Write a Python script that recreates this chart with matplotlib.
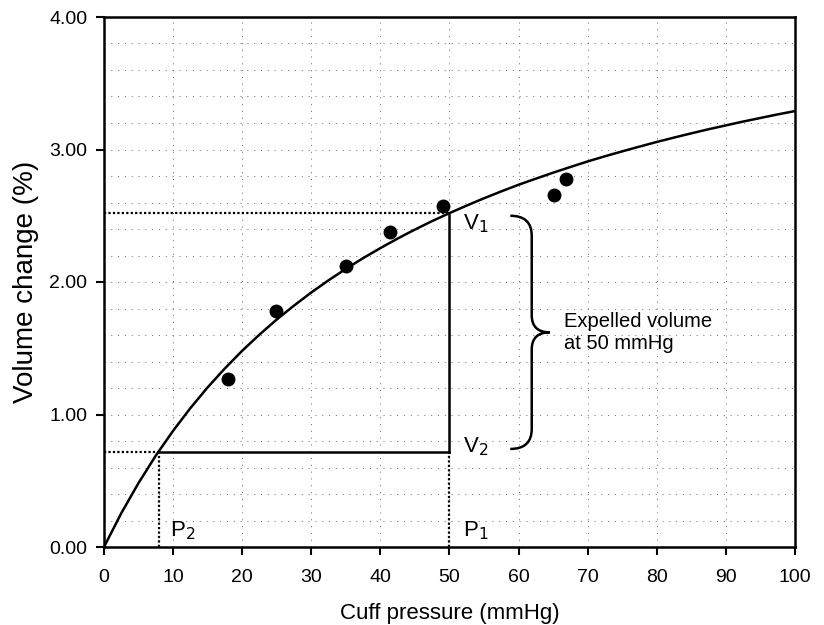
import matplotlib.pyplot as plt
from matplotlib.path import Path
from matplotlib.patches import PathPatch
from matplotlib.ticker import MultipleLocator, FormatStrFormatter

plt.rcParams['font.family'] = ['Liberation Sans', 'DejaVu Sans']

# === DATA ===
curve_p = [0, 2.5, 5, 7.5, 10, 12.5, 15, 17.5, 20, 22.5, 25, 27.5, 30,
           32.5, 35, 37.5, 40, 42.5, 45, 47.5, 50, 52.5, 55, 57.5, 60,
           62.5, 65, 67.5, 70, 72.5, 75, 77.5, 80, 82.5, 85, 87.5, 90,
           92.5, 95, 97.5, 100]
curve_v = [0.000, 0.255, 0.483, 0.690, 0.877, 1.048, 1.205, 1.348, 1.481,
           1.603, 1.717, 1.822, 1.921, 2.013, 2.099, 2.180, 2.256, 2.328,
           2.396, 2.460, 2.520, 2.577, 2.632, 2.684, 2.734, 2.780, 2.825,
           2.868, 2.910, 2.949, 2.986, 3.022, 3.057, 3.090, 3.122, 3.153,
           3.182, 3.211, 3.238, 3.265, 3.290]

meas_p = [18.0, 24.9, 35.0, 41.4, 49.0, 65.1, 66.8]
meas_v = [1.27, 1.78, 2.12, 2.38, 2.57, 2.66, 2.78]

p1, v1 = 50, 2.52
p2, v2 = 8, 0.72

# === FIGURE ===
fig = plt.figure(figsize=(8.24, 6.25), dpi=100)
ax = fig.add_axes([0.1262, 0.1248, 0.8386, 0.848])

ax.set_xlim(0, 100)
ax.set_ylim(0, 4)
ax.xaxis.set_major_locator(MultipleLocator(10))
ax.yaxis.set_major_locator(MultipleLocator(1))
ax.yaxis.set_minor_locator(MultipleLocator(0.2))
ax.yaxis.set_major_formatter(FormatStrFormatter('%.2f'))

# dotted grid
grid_kw = dict(color='#666666', lw=0.7, ls=(0, (1, 6)))
for x in range(10, 100, 10):
    ax.axvline(x, zorder=0, **grid_kw)
for i in range(1, 20):
    ax.axhline(i * 0.2, zorder=0, **grid_kw)

ax.tick_params(which='major', direction='out', length=6, width=1.5)
ax.tick_params(axis='x', labelsize=14, pad=10)
ax.tick_params(axis='y', labelsize=14, pad=6)
ax.tick_params(which='minor', length=0)
for s in ax.spines.values():
    s.set_linewidth(1.8)

# fitted curve and measured points
ax.plot(curve_p, curve_v, color='black', lw=1.8, zorder=3)
ax.plot(meas_p, meas_v, 'o', color='black', ms=9, zorder=4)

# construction lines
ax.plot([0, p1], [v1, v1], color='black', lw=1.6, ls=(0, (1, 1)))
ax.plot([0, p2], [v2, v2], color='black', lw=1.6, ls=(0, (1, 1)))
ax.plot([p2, p2], [0, v2], color='black', lw=1.6, ls=(0, (1, 1)))
ax.plot([p1, p1], [0, v2], color='black', lw=1.6, ls=(0, (1, 1)))
ax.plot([p1, p1], [v1, v2], color='black', lw=1.8)
ax.plot([p2, p1], [v2, v2], color='black', lw=1.8)

# labels
ax.text(52, 2.44, r'V$_1$', fontsize=16, va='center')
ax.text(52, 0.76, r'V$_2$', fontsize=16, va='center')
ax.text(9.5, 0.12, r'P$_2$', fontsize=16, va='center')
ax.text(52, 0.12, r'P$_1$', fontsize=16, va='center')

# curly brace
bx0, bx1, btip = 58.8, 61.9, 64.5
by_top, by_bot = 2.50, 0.74
by_mid = (by_top + by_bot) / 2
verts = [(bx0, by_top), (bx1, by_top), (bx1, by_top - 0.15),
         (bx1, by_mid + 0.13), (bx1, by_mid), (btip, by_mid),
         (bx1, by_mid), (bx1, by_mid - 0.13),
         (bx1, by_bot + 0.15), (bx1, by_bot), (bx0, by_bot)]
codes = [Path.MOVETO, Path.CURVE3, Path.CURVE3,
         Path.LINETO, Path.CURVE3, Path.CURVE3,
         Path.CURVE3, Path.CURVE3,
         Path.LINETO, Path.CURVE3, Path.CURVE3]
ax.add_patch(PathPatch(Path(verts, codes), fill=False, lw=1.8, color='black'))

ax.text(66.5, by_mid, 'Expelled volume\nat 50 mmHg', fontsize=14.5,
        va='center', ha='left', linespacing=1.2)

ax.set_xlabel('Cuff pressure (mmHg)', fontsize=16, labelpad=12)
ax.set_ylabel('Volume change (%)', fontsize=20, labelpad=7)

fig.savefig('out.png', dpi=100)
